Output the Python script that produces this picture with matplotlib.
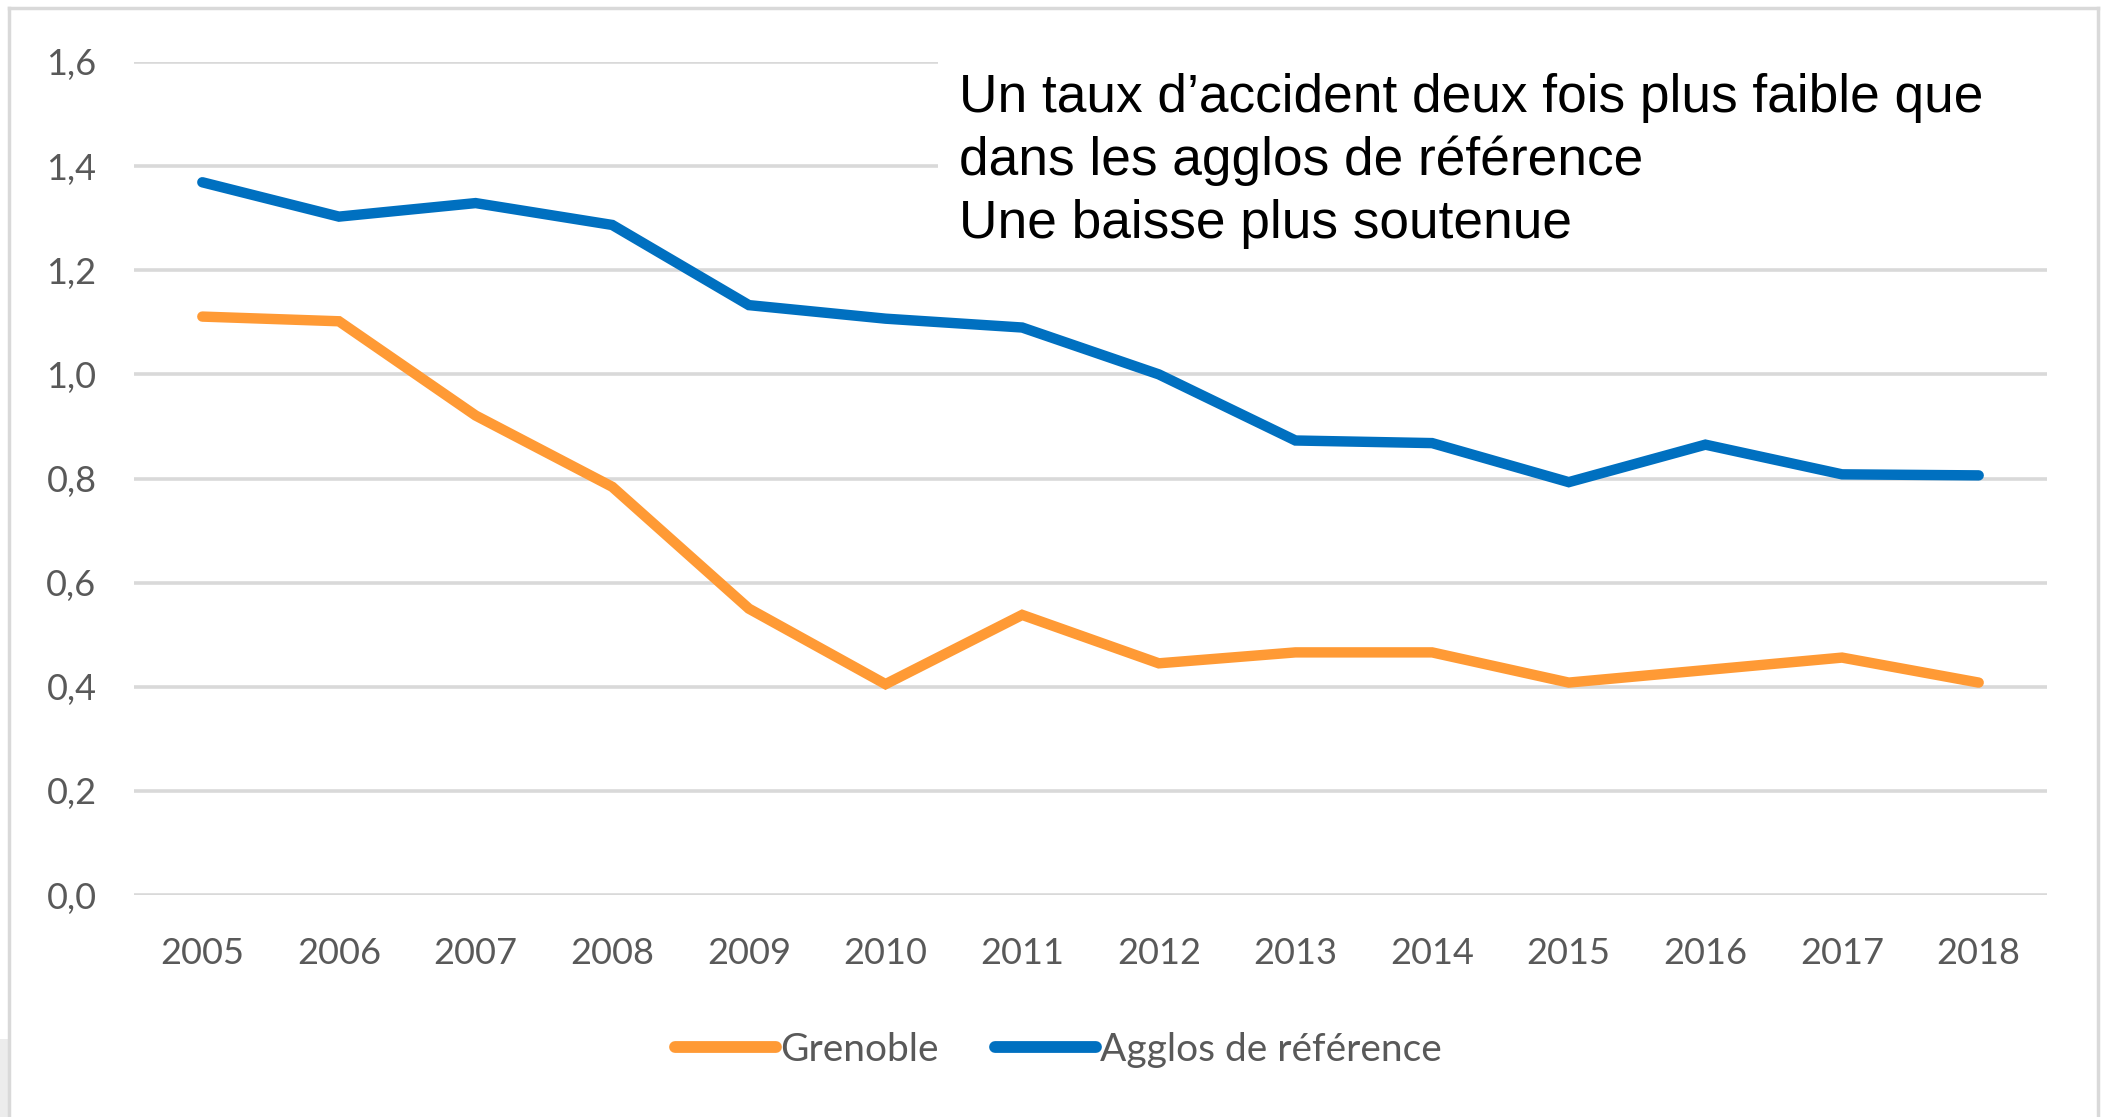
import matplotlib
matplotlib.use("Agg")
import matplotlib.pyplot as plt
from matplotlib.lines import Line2D
from matplotlib.patches import Rectangle

years = ["2005", "2006", "2007", "2008", "2009", "2010", "2011",
         "2012", "2013", "2014", "2015", "2016", "2017", "2018"]
grenoble = [1.111, 1.102, 0.921, 0.784, 0.550, 0.405, 0.538,
            0.445, 0.466, 0.466, 0.408, 0.432, 0.456, 0.408]
agglos = [1.369, 1.303, 1.329, 1.287, 1.133, 1.107, 1.090,
          1.000, 0.873, 0.868, 0.793, 0.865, 0.808, 0.806]
yticks = [0.0, 0.2, 0.4, 0.6, 0.8, 1.0, 1.2, 1.4, 1.6]
ytick_labels = ["0,0", "0,2", "0,4", "0,6", "0,8", "1,0", "1,2", "1,4", "1,6"]
series_names = ["Grenoble", "Agglos de référence"]
note_lines = ["Un taux d\u2019accident deux fois plus faible que",
              "dans les agglos de référence",
              "Une baisse plus soutenue"]

ORANGE = "#FF9A35"
BLUE = "#0070C0"
GRID = "#D9D9D9"
TXT = "#595959"

W, H = 2107, 1117
fig = plt.figure(figsize=(W / 100, H / 100), dpi=100)
fig.patch.set_facecolor("white")

ax = fig.add_axes([134 / W, 1 - 895 / H, (2047 - 134) / W, (895 - 62) / H])
x = list(range(len(years)))
ax.plot(x, grenoble, color=ORANGE, lw=7.5, solid_capstyle="round",
        solid_joinstyle="miter", label=series_names[0], zorder=3)
ax.plot(x, agglos, color=BLUE, lw=7.5, solid_capstyle="round",
        solid_joinstyle="miter", label=series_names[1], zorder=3)

ax.set_xlim(-0.5, len(years) - 0.5)
ax.set_ylim(0, 1.6)
ax.set_yticks(yticks)
ax.set_yticklabels(ytick_labels)
ax.set_xticks(x)
ax.set_xticklabels(years)
ax.yaxis.grid(True, color=GRID, lw=2.6, zorder=0)
ax.set_axisbelow(True)
for s in ax.spines.values():
    s.set_visible(False)
ax.tick_params(axis="both", length=0, labelsize=26, labelcolor=TXT)
ax.tick_params(axis="y", pad=27)
ax.tick_params(axis="x", pad=30)
for lab in ax.get_xticklabels() + ax.get_yticklabels():
    lab.set_fontfamily("Lato")

# white box behind the annotation
ax.add_patch(Rectangle((938 / W, 1 - 255 / H), (2060 - 938) / W, 255 / H,
                       transform=fig.transFigure, facecolor="white",
                       edgecolor="none", zorder=2, clip_on=False))
for i, line in enumerate(note_lines):
    fig.text(959 / W, 1 - (112 + 63 * i) / H, line, fontsize=38.3,
             family="Liberation Sans", color="black", ha="left",
             va="baseline", zorder=5)

leg = fig.legend(loc="center", bbox_to_anchor=(1058 / W, 1 - 1050 / H),
                 ncol=2, frameon=False, fontsize=28, handlelength=2.6,
                 handletextpad=0.1, columnspacing=1.45)
for t in leg.get_texts():
    t.set_color(TXT)
    t.set_fontfamily("Lato")
for h in leg.legend_handles:
    h.set_linewidth(8.5)
    h.set_solid_capstyle("round")

# outer frame
fr = dict(color=GRID, lw=2.5, transform=fig.transFigure)
fig.add_artist(Line2D([9 / W, 2098 / W], [1 - 8 / H, 1 - 8 / H], **fr))
fig.add_artist(Line2D([9 / W, 9 / W], [0, 1 - 8 / H], **fr))
fig.add_artist(Line2D([2098 / W, 2098 / W], [0, 1 - 8 / H], **fr))
fig.add_artist(Rectangle((0, 0), 8 / W, 78 / H, transform=fig.transFigure,
                         facecolor="#ECECEC", edgecolor="none"))

fig.savefig("out.png", dpi=100, facecolor="white")
